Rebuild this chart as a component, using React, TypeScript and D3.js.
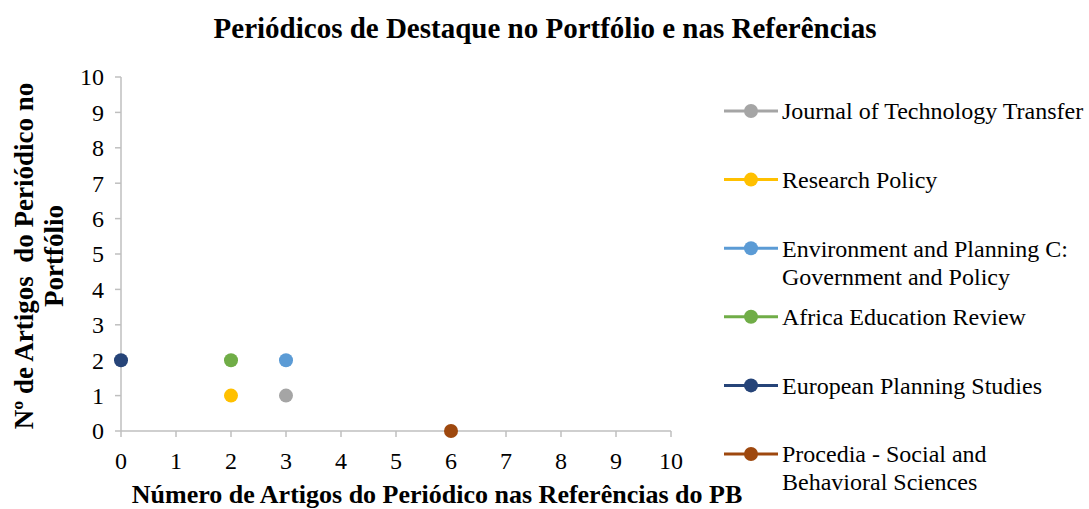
import React from 'react';
import * as d3 from 'd3';

const journals = [
  'Journal of Technology Transfer',
  'Research Policy',
  'Environment and Planning C: Government and Policy',
  'Africa Education Review',
  'European Planning Studies',
  'Procedia - Social and Behavioral Sciences',
];
// legend text split in lines as in the reference
const legendLines = [
  ['Journal of Technology Transfer'],
  ['Research Policy'],
  ['Environment and Planning C:', 'Government and Policy'],
  ['Africa Education Review'],
  ['European Planning Studies'],
  ['Procedia - Social and', 'Behavioral Sciences'],
];
const refCounts = [3, 2, 3, 2, 0, 6];
const portfolioCounts = [1, 1, 2, 2, 2, 0];
const colors = ['#A5A5A5', '#FFC000', '#5B9BD5', '#70AD47', '#264478', '#9E480E'];
const ticks = [0, 1, 2, 3, 4, 5, 6, 7, 8, 9, 10];

const font = '"Liberation Serif", "Times New Roman", serif';

const App = () => {
  const width = 1089, height = 509;
  const x = d3.scaleLinear().domain([0, 10]).range([121, 671]);
  const y = d3.scaleLinear().domain([0, 10]).range([431, 77]);
  const legendY = d3.scalePoint().domain(journals).range([111, 454]);
  const axisColor = '#BFBFBF';

  return (
    <svg width={width} height={height} style={{ position: 'absolute', left: 0, top: 0 }} fontFamily={font}>
      <text x={545} y={38} textAnchor="middle" fontWeight="bold" fontSize={29}>
        Periódicos de Destaque no Portfólio e nas Referências
      </text>

      {/* axes */}
      <line x1={x(0)} x2={x(0)} y1={y(10)} y2={y(0)} stroke={axisColor} strokeWidth={1.5} />
      <line x1={x(0)} x2={x(10)} y1={y(0)} y2={y(0)} stroke={axisColor} strokeWidth={1.5} />
      {ticks.map(t => (
        <g key={'y' + t}>
          <line x1={x(0) - 6} x2={x(0)} y1={y(t)} y2={y(t)} stroke={axisColor} strokeWidth={1.5} />
          <text x={104} y={y(t)} dy="0.35em" textAnchor="end" fontSize={24}>{t}</text>
        </g>
      ))}
      {ticks.map(t => (
        <g key={'x' + t}>
          <line x1={x(t)} x2={x(t)} y1={y(0)} y2={y(0) + 6} stroke={axisColor} strokeWidth={1.5} />
          <text x={x(t)} y={469} textAnchor="middle" fontSize={24}>{t}</text>
        </g>
      ))}

      <text transform="translate(33,256) rotate(-90)" textAnchor="middle" fontWeight="bold" fontSize={27}
        style={{ whiteSpace: 'pre' }}>
        Nº de Artigos  do Periódico no
      </text>
      <text transform="translate(63,256) rotate(-90)" textAnchor="middle" fontWeight="bold" fontSize={27}>
        Portfólio
      </text>
      <text x={437} y={503} textAnchor="middle" fontWeight="bold" fontSize={26}>
        Número de Artigos do Periódico nas Referências do PB
      </text>

      {/* points */}
      {journals.map((j, i) => (
        <circle key={j} cx={x(refCounts[i])} cy={y(portfolioCounts[i])} r={7} fill={colors[i]} />
      ))}

      {/* legend */}
      {journals.map((j, i) => {
        const ly = legendY(j) as number;
        return (
          <g key={'l' + j}>
            <line x1={724} x2={778} y1={ly} y2={ly} stroke={colors[i]} strokeWidth={3} />
            <circle cx={751} cy={ly} r={7} fill={colors[i]} />
            {legendLines[i].map((s, k) => (
              <text key={k} x={782} y={ly + k * 28} dy="0.35em" fontSize={24}>{s}</text>
            ))}
          </g>
        );
      })}
    </svg>
  );
};

export default App;
